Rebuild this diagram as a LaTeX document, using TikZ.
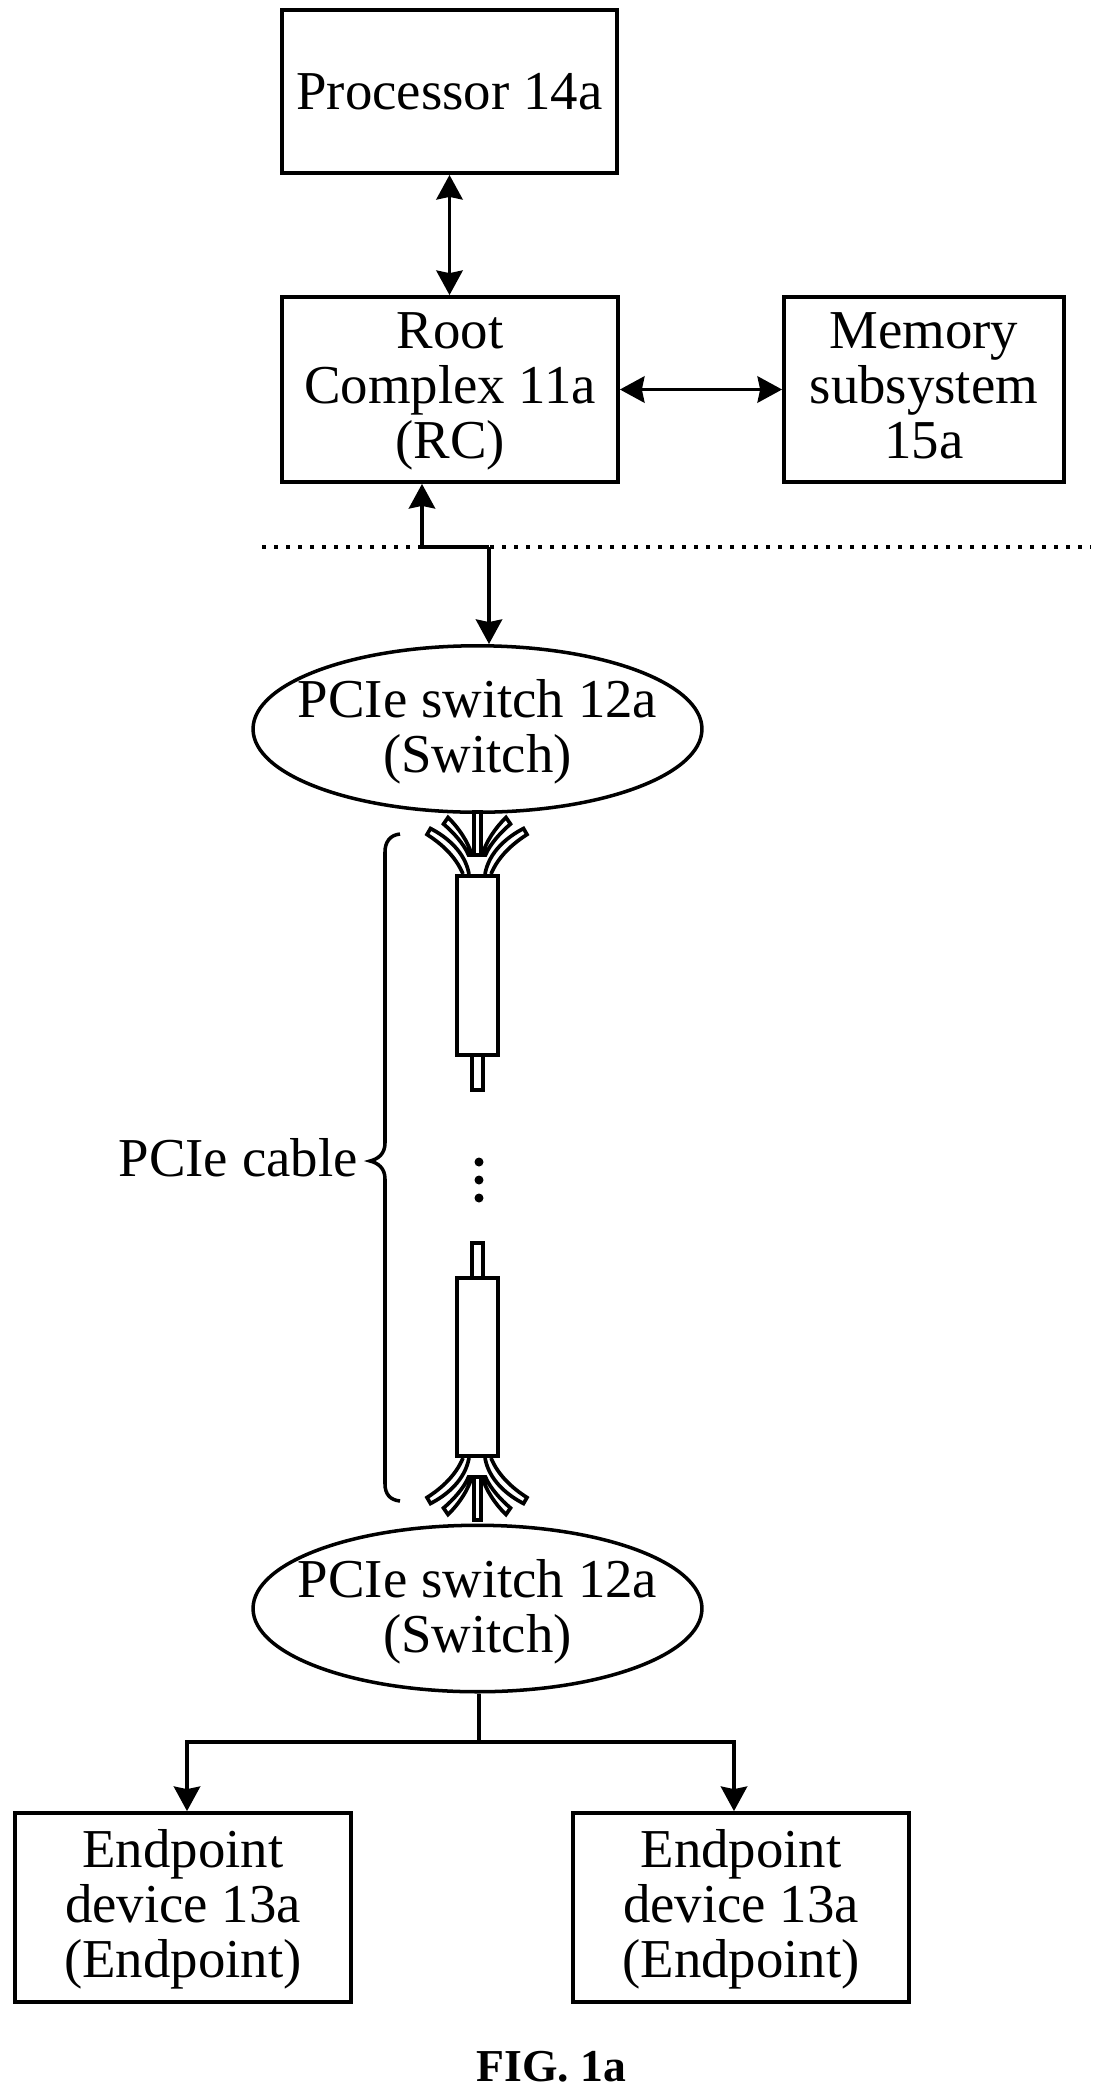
\documentclass[tikz,border=0pt]{standalone}
\usepackage{fontspec}
\setmainfont{Liberation Serif}
\usetikzlibrary{calc, arrows.meta, shapes.geometric}

\tikzset{
    labelfont/.style={font=\fontsize{31.2}{31.5}\selectfont},
    block/.style={draw, line width=2.2pt, align=center, inner sep=0pt, labelfont, text height=21pt, text depth=0pt},
    rcbox/.style={block, text height=79pt, minimum width=6.72cm, minimum height=3.7cm},
    epbox/.style={block, text height=80.2pt, minimum width=6.72cm, minimum height=3.78cm},
    switch/.style={block, ellipse, text height=50pt, inner xsep=-0.6cm, inner ysep=0pt,
        line width=2pt, minimum width=8.98cm, minimum height=3.33cm},
    headtip/.tip={Stealth[length=14pt, width=15pt, inset=1.5pt]},
    link/.style={line width=1.9pt, -headtip},
    duplex/.style={line width=1.9pt, headtip-headtip},
    wire/.style={line width=2.1pt, fill=white},
    wire ends/.pic={
        \foreach \s in {-1,1} {
            \draw [wire, xscale=\s] (-33.5,-50) .. controls (-24,-42) and (-13,-30) .. (-8.5,-19)
            -- (-5,-19) .. controls (-9,-32) and (-18,-46) .. (-29,-56.5) -- cycle;
            \draw [wire, xscale=\s] (-14,0) .. controls (-21,-17) and (-35,-30) .. (-50,-39.5)
            -- (-46.5,-45.5) .. controls (-30,-37) and (-12,-22) .. (-8,0);
        }
        \draw [wire] (-3,-19) rectangle (4,-62);
    },
}

\begin{document}
\begin{tikzpicture}[x=0.02cm, y=-0.02cm]
    \useasboundingbox (0, 0) rectangle (1113, 2090);

    % host side
    \node [block, minimum width=6.7cm, minimum height=3.26cm] (proc) at (449.5, 91.5) {Processor 14a};
    \node [rcbox] (rc) at (450, 389.5) {Root\\Complex 11a\\(RC)};
    \node [rcbox, minimum width=5.6cm] (mem) at (924, 389.5) {Memory\\subsystem\\15a};
    \draw [duplex] (proc) -- (proc |- rc.north);
    \draw [duplex] (rc) -- (mem);

    \coordinate (leftend) at (262, 547);
    \coordinate (rightend) at (1091, 547);
    \draw [line width=2pt, dash pattern=on 2pt off 4.83pt] (leftend) -- (rightend);

    % switches
    \node [switch] (swtop) at (477.5, 729) {PCIe switch 12a\\(Switch)};
    \node [switch] (swbot) at (477.5, 1608.5) {PCIe switch 12a\\(Switch)};
    \coordinate (rctap) at (422, 547);
    \coordinate (swtap) at (489, 547);
    \draw [line width=2.4pt] (rctap) -- (swtap);
    \draw [link] (rctap) -- (rctap |- rc.south);
    \draw [link] (swtap) -- (swtap |- swtop.north);

    % cable
    \foreach \y/\f in {874/1, 1458/-1} {
        \pic [yscale=\f] at (477, \y) {wire ends};
    }
    \draw [wire] (472, 1055) rectangle (483, 1090);
    \draw [wire] (472, 1243) rectangle (483, 1278);
    \draw [wire, line width=2.3pt] (457, 876) rectangle (498, 1055);
    \draw [wire, line width=2.3pt] (457, 1278) rectangle (498, 1456);
    \foreach \y in {1162, 1180, 1198} {
        \fill (479, \y) circle (4.5);
    }

    % brace
    \coordinate (bracetip) at (370, 1161);
    \draw [line width=2pt] (400, 834) .. controls (390, 835) and (385, 842) .. (385, 852)
    -- (385, 1143) .. controls (385, 1154) and (378, 1159) .. (bracetip)
    .. controls (378, 1163) and (385, 1168) .. (385, 1179)
    -- (385, 1484) .. controls (385, 1494) and (390, 1500) .. (400, 1501);
    \node [labelfont, anchor=base east, inner sep=0pt] (cablelabel) at (358, 1176) {PCIe cable};

    % endpoints
    \node [epbox] (epl) at (183, 1907.5) {Endpoint\\device 13a\\(Endpoint)};
    \node [epbox] (epr) at (741, 1907.5) {Endpoint\\device 13a\\(Endpoint)};
    \coordinate (fork) at (479, 1742);
    \draw [line width=1.9pt] (fork |- swbot.south) -- (fork);
    \draw [link] (fork) -| (epl.north -| 187, 0);
    \draw [link] (fork) -| (epr.north -| 734, 0);

    \node [font=\fontsize{26}{26}\selectfont\bfseries, anchor=base, inner sep=0pt] (figlabel) at (551.5, 2081) {FIG. 1a};
\end{tikzpicture}
\end{document}
